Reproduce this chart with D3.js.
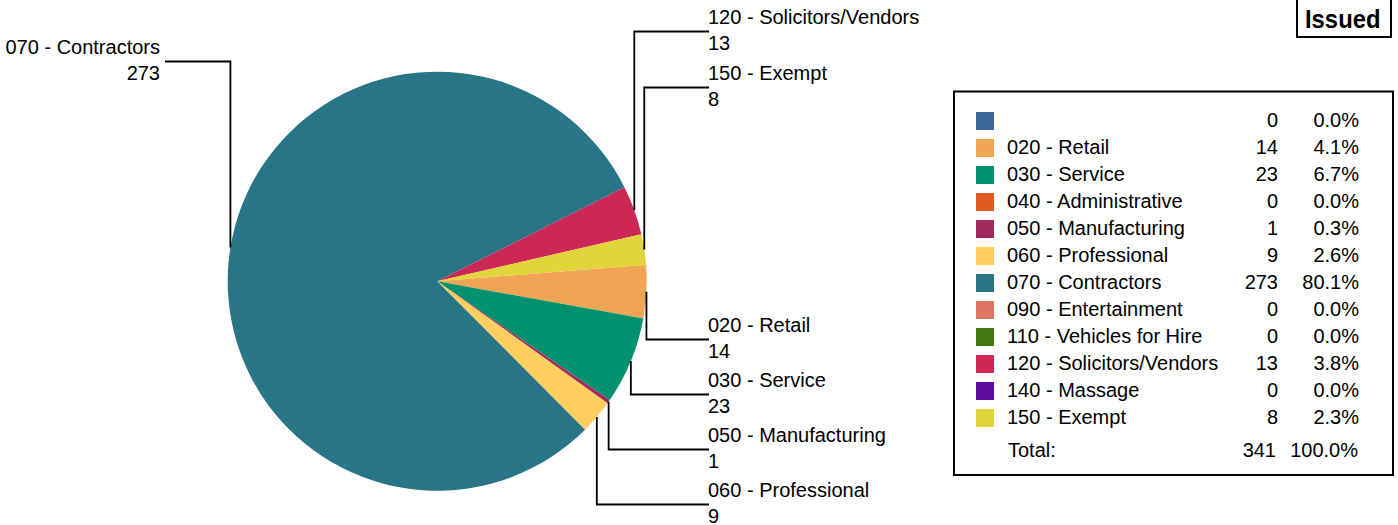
<!DOCTYPE html>
<html>
<head>
<meta charset="utf-8">
<script src="https://cdn.jsdelivr.net/npm/d3@7/dist/d3.min.js"></script>
<style>
  html, body { margin: 0; padding: 0; background: #fff; }
  svg { display: block; }
  text { font-family: Arial, "Liberation Sans", sans-serif; fill: #000; }
</style>
</head>
<body>
<svg id="chart" width="1398" height="525"></svg>
<script>
// ---- data ----
const categories = ["", "020 - Retail", "030 - Service", "040 - Administrative", "050 - Manufacturing",
  "060 - Professional", "070 - Contractors", "090 - Entertainment", "110 - Vehicles for Hire",
  "120 - Solicitors/Vendors", "140 - Massage", "150 - Exempt"];
const counts = [0, 14, 23, 0, 1, 9, 273, 0, 0, 13, 0, 8];
const colors = ["#3d6698", "#f0a555", "#00916e", "#e05a1f", "#a12a5e", "#fecf5f", "#297588",
  "#e07463", "#437a12", "#cc2857", "#5c0b9d", "#e2d53c"];
const title = "Issued";
const totalLabel = "Total:";

// ---- layout ----
const svg = d3.select("#chart");
const cx = 437.2, cy = 281.2, R = 209.5;
const FS = 20;
const startA = 85.5 * Math.PI / 180;

const data = categories.map((c, i) => ({ name: c, value: counts[i], color: colors[i] }));
const total = d3.sum(counts);

const pie = d3.pie().value(d => d.value).sort(null)
  .startAngle(startA).endAngle(startA + 2 * Math.PI);
const arcs = pie(data);
const arc = d3.arc().innerRadius(0).outerRadius(R);

const g = svg.append("g").attr("transform", `translate(${cx},${cy})`);
g.selectAll("path").data(arcs.filter(a => a.data.value > 0)).join("path")
  .attr("d", arc).attr("fill", d => d.data.color);

// ---- labels ----
const labeled = arcs.filter(a => a.data.value > 0).map(a => {
  const m = (a.startAngle + a.endAngle) / 2;
  const ax = cx + R * Math.sin(m), ay = cy - R * Math.cos(m);
  const nm = ((m % (2 * Math.PI)) + 2 * Math.PI) % (2 * Math.PI);
  return { a, ax, ay, right: nm < Math.PI };
});
const right = labeled.filter(d => d.right).sort((p, q) => p.ay - q.ay);
const left = labeled.filter(d => !d.right).sort((p, q) => p.ay - q.ay);
const upperR = right.filter(d => d.ay < cy), lowerR = right.filter(d => d.ay >= cy);
upperR.forEach((d, i) => d.Y = 24 + 56 * i);
lowerR.forEach((d, i) => d.Y = 497 - 55 * (lowerR.length - 1 - i));
left.forEach((d, i) => d.Y = 54 + 56 * i);

const lab = svg.append("g");
labeled.forEach(d => {
  const ly = d.Y + 7.5;
  const ex = d.right ? 709 : 165;
  lab.append("path")
    .attr("d", `M${d.ax},${d.ay}V${ly}H${ex}`)
    .attr("fill", "none").attr("stroke", "#000").attr("stroke-width", 1.8);
  const tx = d.right ? 708 : 160;
  const anchor = d.right ? "start" : "end";
  lab.append("text").attr("x", tx).attr("y", d.Y).attr("font-size", FS)
    .attr("text-anchor", anchor).text(d.a.data.name);
  lab.append("text").attr("x", tx).attr("y", d.Y + 25.5).attr("font-size", FS)
    .attr("text-anchor", anchor).text(d.a.data.value);
});

// ---- legend ----
const leg = svg.append("g");
leg.append("rect").attr("x", 954).attr("y", 91.5).attr("width", 439).attr("height", 383.5)
  .attr("fill", "#fff").attr("stroke", "#000").attr("stroke-width", 2);
const rowY = i => 126.5 + 27 * i;
data.forEach((d, i) => {
  const y = rowY(i);
  leg.append("rect").attr("x", 976).attr("y", y - 14.5).attr("width", 18).attr("height", 18)
    .attr("fill", d.color);
  leg.append("text").attr("x", 1007).attr("y", y).attr("font-size", FS).text(d.name);
  leg.append("text").attr("x", 1278).attr("y", y).attr("font-size", FS)
    .attr("text-anchor", "end").text(d.value);
  leg.append("text").attr("x", 1359).attr("y", y).attr("font-size", FS)
    .attr("text-anchor", "end").text((d.value / total * 100).toFixed(1) + "%");
});
const ty = rowY(data.length - 1) + 33;
leg.append("text").attr("x", 1008).attr("y", ty).attr("font-size", FS).text(totalLabel);
leg.append("text").attr("x", 1276).attr("y", ty).attr("font-size", FS)
  .attr("text-anchor", "end").text(total);
leg.append("text").attr("x", 1358).attr("y", ty).attr("font-size", FS)
  .attr("text-anchor", "end").text((100).toFixed(1) + "%");

// ---- title box ----
svg.append("rect").attr("x", 1297).attr("y", -2).attr("width", 94).attr("height", 39)
  .attr("fill", "#fff").attr("stroke", "#000").attr("stroke-width", 2);
svg.append("text").attr("x", 1305).attr("y", 27.7).attr("font-size", 25)
  .attr("font-weight", "bold").attr("textLength", 75.5).attr("lengthAdjust", "spacingAndGlyphs")
  .text(title);
</script>
</body>
</html>
